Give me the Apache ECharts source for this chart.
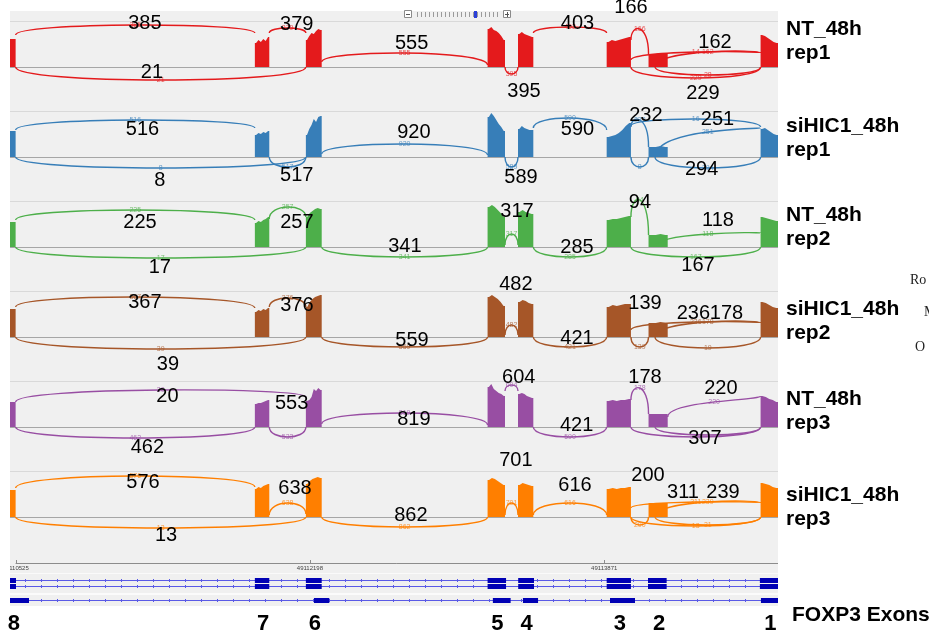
<!DOCTYPE html>
<html>
<head>
<meta charset="utf-8">
<script src="https://cdn.jsdelivr.net/npm/echarts@6/dist/echarts.min.js"></script>
<style>
  html, body { margin: 0; padding: 0; background: #fff; }
  #chart { width: 929px; height: 635px; }
</style>
</head>
<body>
<div id="chart"></div>
<script>
// ---------------- data ----------------
// FOXP3 exons, left to right on the genomic axis (exon 8 ... exon 1)
const exonLabels = ['8', '7', '6', '5', '4', '3', '2', '1'];
const exonStart = [49110493, 49111885, 49112175, 49113208, 49113381, 49113885, 49114123, 49114760];
const exonEnd   = [49110525, 49111967, 49112265, 49113307, 49113468, 49114023, 49114232, 49114859];
const rulerTicks = [49110525, 49112198, 49113871];

// annotated transcripts (exon blocks)
const transcriptA = [[49110493, 49110527], [49111885, 49111967], [49112175, 49112265], [49113208, 49113313],
                     [49113382, 49113472], [49113885, 49114023], [49114120, 49114226], [49114756, 49114859]];
const transcriptB = transcriptA;
const transcriptC = [[49110493, 49110601], [49112221, 49112308], [49113238, 49113339], [49113409, 49113495],
                     [49113904, 49114046], [49114762, 49114859]];

const sampleNames = [['NT_48h', 'rep1'], ['siHIC1_48h', 'rep1'], ['NT_48h', 'rep2'],
                     ['siHIC1_48h', 'rep2'], ['NT_48h', 'rep3'], ['siHIC1_48h', 'rep3']];

// read coverage across each exon (relative depth, samples along the exon)
const covNT_rep1 = [[28, 28, 28], [24, 27, 25, 28, 26, 30], [27, 31, 34, 33, 36, 38, 37], [38, 40, 37, 36, 34, 31, 27],
                    [33, 35, 33, 32, 31, 30], [25, 27, 26, 27, 28, 29, 30], [13, 13, 14, 13], [32, 31, 29, 27, 25, 24]];
const covSi_rep1 = [[26, 26, 26], [22, 24, 23, 25, 24, 26], [22, 28, 32, 38, 35, 40, 41], [40, 44, 41, 37, 33, 30, 26],
                    [28, 31, 29, 28, 27, 27], [20, 21, 22, 24, 27, 31, 34], [10, 10, 11, 10], [28, 29, 27, 25, 23, 22]];
const covNT_rep2 = [[25, 25, 25], [24, 26, 25, 27, 28, 30], [30, 34, 36, 38, 39, 38], [40, 42, 40, 37, 34, 30],
                    [35, 37, 35, 34, 33], [27, 28, 28, 29, 30, 31], [12, 12, 13, 12], [30, 29, 28, 27, 26]];
const covSi_rep2 = [[28, 28, 28], [25, 27, 26, 28, 27, 29], [30, 35, 38, 40, 41, 42], [40, 42, 40, 38, 35, 31],
                    [35, 37, 36, 34, 33], [30, 32, 31, 32, 33, 33], [14, 14, 15, 14], [35, 34, 32, 30, 29]];
const covNT_rep3 = [[25, 25, 25], [23, 24, 24, 25, 26, 27], [26, 27, 30, 38, 36, 39, 37], [40, 43, 38, 36, 34, 33, 31],
                    [33, 34, 33, 31, 30, 29], [26, 27, 26, 27, 27, 28], [13, 13, 13, 13], [31, 30, 28, 27, 25]];
const covSi_rep3 = [[27, 27, 27], [28, 30, 29, 31, 32, 33], [33, 36, 38, 39, 40, 39], [37, 39, 38, 36, 34, 32],
                    [32, 34, 33, 32, 31], [28, 29, 28, 29, 29, 30], [14, 14, 14, 14], [34, 33, 32, 30, 29]];

// splice junctions: [donor, acceptor, reads, side (1 above / -1 below)]
const junNT_rep1 = [[49110525, 49111885, 385, 1], [49111967, 49112175, 379, 1], [49112265, 49113208, 555, 1],
                    [49113468, 49113885, 403, 1], [49114023, 49114123, 166, 1], [49114023, 49114760, 14, 1],
                    [49114160, 49114760, 162, 1], [49110525, 49112175, 21, -1], [49113307, 49113381, 395, -1],
                    [49114023, 49114760, 229, -1], [49114160, 49114760, 28, -1]];
const junSi_rep1 = [[49110525, 49111885, 516, 1], [49110525, 49112175, 8, -1], [49111967, 49112175, 517, -1],
                    [49112265, 49113208, 920, 1], [49113307, 49113381, 589, -1], [49113468, 49113885, 590, 1],
                    [49114023, 49114123, 232, 1], [49114023, 49114123, 8, -1], [49114023, 49114760, 16, 1],
                    [49114160, 49114760, 251, 1], [49114160, 49114760, 294, -1]];
const junNT_rep2 = [[49110525, 49111885, 225, 1], [49111967, 49112175, 257, 1], [49110525, 49112175, 17, -1],
                    [49112265, 49113208, 341, -1], [49113307, 49113381, 317, 1], [49113468, 49113885, 285, -1],
                    [49114023, 49114123, 94, 1], [49114160, 49114760, 118, 1], [49114023, 49114760, 167, -1]];
const junSi_rep2 = [[49110525, 49111885, 367, 1], [49111967, 49112175, 376, 1], [49110525, 49112175, 39, -1],
                    [49112265, 49113208, 559, -1], [49113307, 49113381, 482, 1], [49113468, 49113885, 421, -1],
                    [49114023, 49114123, 139, -1], [49114023, 49114760, 236, 1], [49114160, 49114760, 178, 1],
                    [49114160, 49114760, 19, -1]];
const junNT_rep3 = [[49110525, 49112175, 20, 1], [49110525, 49111885, 462, -1], [49111967, 49112175, 533, -1],
                    [49112265, 49113208, 819, 1], [49113307, 49113381, 604, 1], [49113468, 49113885, 590, -1],
                    [49114023, 49114123, 178, 1], [49114232, 49114760, 220, 1], [49114023, 49114760, 307, -1],
                    [49114160, 49114760, null, -1]];
const junSi_rep3 = [[49110525, 49111885, 576, 1], [49111967, 49112175, 638, 1], [49110525, 49112175, 13, -1],
                    [49112265, 49113208, 862, -1], [49113307, 49113381, 701, 1], [49113468, 49113885, 616, 1],
                    [49114023, 49114123, 200, -1], [49114023, 49114760, 311, 1], [49114160, 49114760, 239, 1],
                    [49114023, 49114760, 13, -1], [49114160, 49114760, 31, -1]];

// junction read counts written large over each track
const callNT_rep1 = [385, 379, 555, 403, 166, 162, 21, 395, 229];
const callSi_rep1 = [516, 8, 517, 920, 589, 590, 232, 251, 294];
const callNT_rep2 = [225, 257, 17, 341, 317, 285, 94, 118, 167];
const callSi_rep2 = [367, 376, 39, 559, 482, 421, 139, 236, 178];
const callNT_rep3 = [20, 462, 553, 819, 604, 421, 178, 220, 307];
const callSi_rep3 = [576, 638, 13, 862, 701, 616, 200, 311, 239];

// ---------------- layout & style ----------------
const xMin = 49110493, xMax = 49114859;
const trackColors = ['#e41a1c', '#377eb8', '#4daf4a', '#a65628', '#984ea3', '#ff7f00'];
const FONT = '"Liberation Sans", Arial, sans-serif';

// arc geometry per junction: [end height at donor, end height at acceptor, apex height]
const arcShapes = [
  [[32, 34, 42], [34, 34, 39], [5, 2, 14], [34, 34, 40], [27, 13, 38], [7, 14, 15], [0, 14, 15], [0, 0, 13], [0, 0, 7], [0, 0, 11], [0, 0, 8]],
  [[27, 29, 37], [0, 0, 11], [0, 0, 10], [3, 2, 13], [0, 0, 10], [29, 27, 39], [30, 10, 37], [0, 0, 10], [31, 30, 38], [0, 29, 25], [0, 0, 11]],
  [[27, 27, 37], [28, 30, 40], [0, 0, 11], [0, 0, 10], [2, 2, 13], [0, 0, 10], [30, 12, 47], [0, 14, 13], [0, 0, 10]],
  [[30, 29, 40], [30, 30, 39], [0, 0, 12], [0, 0, 10], [2, 2, 12], [0, 0, 10], [0, 0, 10], [7, 14, 15], [0, 14, 15], [0, 0, 11]],
  [[25, 30, 37], [0, 0, 11], [0, 0, 10], [3, 2, 14], [36, 36, 42], [0, 0, 10], [27, 13, 39], [10, 31, 25], [0, 0, 10], [0, 0, 8]],
  [[29, 30, 41], [2, 3, 14], [0, 0, 11], [0, 0, 10], [2, 2, 14], [2, 2, 14], [0, 0, 8], [9, 14, 15], [0, 14, 15], [0, 0, 9], [0, 0, 8]]
];
// anchor of each large count: [genomic position, height in track units]
const calloutAnchors = [
  [[49111260, 44], [49112123, 43], [49112776, 24], [49113719, 44], [49114023, 60], [49114501, 25], [49111300, -5], [49113415, -24], [49114432, -26]],
  [[49111246, 27.5], [49111345, -23], [49112123, -18], [49112789, 25], [49113398, -20], [49113719, 28], [49114108, 42], [49114515, 37.5], [49114425, -12]],
  [[49111232, 25], [49112124, 25], [49111345, -20], [49112738, 1], [49113375, 36], [49113716, 0], [49114074, 45], [49114518, 27], [49114404, -18]],
  [[49111260, 35], [49112124, 32], [49111391, -27], [49112778, -3], [49113369, 53], [49113716, -1], [49114103, 34], [49114378, 24], [49114566, 24]],
  [[49111388, 31], [49111274, -20], [49112094, 24], [49112789, 8], [49113385, 50], [49113714, 2], [49114103, 50], [49114534, 39], [49114444, -11]],
  [[49111249, 35], [49112113, 29], [49111380, -18], [49112772, 2], [49113369, 57], [49113705, 32], [49114120, 42], [49114319, 25], [49114546, 25]]
];
const sampleLabelY = [30.5, 127.5, 217, 311, 401, 496.5];

const tracks = [
  { cov: covNT_rep1, jun: junNT_rep1, call: callNT_rep1 },
  { cov: covSi_rep1, jun: junSi_rep1, call: callSi_rep1 },
  { cov: covNT_rep2, jun: junNT_rep2, call: callNT_rep2 },
  { cov: covSi_rep2, jun: junSi_rep2, call: callSi_rep2 },
  { cov: covNT_rep3, jun: junNT_rep3, call: callNT_rep3 },
  { cov: covSi_rep3, jun: junSi_rep3, call: callSi_rep3 }
];

// ---------------- chart ----------------
const grids = [], xAxes = [], yAxes = [], series = [];
const GENE = tracks.length;

tracks.forEach((t, ti) => {
  grids.push({ left: 10, top: 11 + 90 * ti, width: 768, height: 90, show: true,
               backgroundColor: '#f0f0f0', borderWidth: 0 });
  xAxes.push({ gridIndex: ti, type: 'value', min: xMin, max: xMax, show: false });
  yAxes.push({ gridIndex: ti, type: 'value', min: -34, max: 56, show: false });
});
grids.push({ left: 10, top: 551, width: 768, height: 55, show: true, backgroundColor: '#f0f0f0', borderWidth: 0 });
xAxes.push({ gridIndex: GENE, type: 'value', min: xMin, max: xMax, show: false });
yAxes.push({ gridIndex: GENE, type: 'value', min: 0, max: 55, inverse: true, show: false });

tracks.forEach((t, ti) => {
  const color = trackColors[ti];
  const base = { type: 'custom', xAxisIndex: ti, yAxisIndex: ti, silent: true, animation: false };

  // track guide lines: data range top and zero line
  series.push(Object.assign({}, base, {
    data: [[xMin, 0]],
    renderItem: (params, api) => {
      const l = api.coord([xMin, 0]), r = api.coord([xMax, 0]), top = api.coord([xMin, 46]);
      return { type: 'group', children: [
        { type: 'line', shape: { x1: l[0], y1: Math.round(top[1]) + 0.5, x2: r[0], y2: Math.round(top[1]) + 0.5 },
          style: { stroke: '#d9d9d9', lineWidth: 1 } },
        { type: 'line', shape: { x1: l[0], y1: Math.round(l[1]) + 0.5, x2: r[0], y2: Math.round(l[1]) + 0.5 },
          style: { stroke: '#a6a6a6', lineWidth: 1 } }
      ] };
    }
  }));

  // exon coverage
  series.push(Object.assign({}, base, {
    data: t.cov.map((_, i) => [exonStart[i], 0]),
    renderItem: (params, api) => {
      const i = params.dataIndex, vals = t.cov[i];
      const s = exonStart[i], e = exonEnd[i], n = vals.length, step = (e - s) / n;
      const pts = [api.coord([s, 0]), api.coord([s, vals[0]])];
      vals.forEach((v, k) => pts.push(api.coord([s + step * (k + 0.5), v])));
      pts.push(api.coord([e, vals[n - 1]]), api.coord([e, 0]));
      return { type: 'polygon', shape: { points: pts }, style: { fill: color } };
    }
  }));

  // junction arcs with their read counts
  series.push(Object.assign({}, base, {
    data: t.jun.map(j => [j[0], 0]),
    renderItem: (params, api) => {
      const [a, b, count, side] = t.jun[params.dataIndex];
      const sh = arcShapes[ti][params.dataIndex];
      const h1 = side * sh[0], h2 = side * sh[1], peak = side * sh[2];
      const c = (peak - 0.125 * (h1 + h2)) / 0.75;
      const p1 = api.coord([a, h1]), p2 = api.coord([b, h2]);
      const q1 = api.coord([a, c]), q2 = api.coord([b, c]);
      const mid = api.coord([(a + b) / 2, peak]);
      const children = [{
        type: 'bezierCurve',
        shape: { x1: p1[0], y1: p1[1], x2: p2[0], y2: p2[1], cpx1: q1[0], cpy1: q1[1], cpx2: q2[0], cpy2: q2[1] },
        style: { stroke: color, fill: null, lineWidth: 1.4 }
      }];
      if (count != null) {
        children.push({ type: 'text', x: mid[0], y: mid[1],
          style: { text: String(count), fill: color, opacity: 0.75, font: '7px ' + FONT,
                   align: 'center', verticalAlign: 'middle' } });
      }
      return { type: 'group', children };
    }
  }));

  // large count annotations
  series.push(Object.assign({}, base, {
    data: t.call.map((_, i) => calloutAnchors[ti][i]),
    renderItem: (params, api) => {
      const i = params.dataIndex, p = api.coord(calloutAnchors[ti][i]);
      return { type: 'text', x: p[0], y: p[1],
        style: { text: String(t.call[i]), fill: '#000', font: '20px ' + FONT, align: 'center', verticalAlign: 'middle' } };
    }
  }));
});

// gene panel: ruler and transcript models
const geneBase = { type: 'custom', xAxisIndex: GENE, yAxisIndex: GENE, silent: true, animation: false };

series.push(Object.assign({}, geneBase, {
  data: [[xMin, 0]],
  renderItem: (params, api) => {
    const l = api.coord([xMin, 0]), r = api.coord([xMax, 0]);
    const kids = [
      { type: 'rect', shape: { x: l[0], y: api.coord([xMin, 22])[1], width: r[0] - l[0], height: 1 }, style: { fill: '#fafafa' } },
      { type: 'rect', shape: { x: l[0], y: api.coord([xMin, 42])[1], width: r[0] - l[0], height: 2 }, style: { fill: '#fbfbfb' } }
    ];
    const r0 = api.coord([rulerTicks[0], 12]);
    kids.push({ type: 'line', shape: { x1: r0[0], y1: Math.round(r0[1]) + 0.5, x2: r[0], y2: Math.round(r0[1]) + 0.5 },
                style: { stroke: '#8c8c8c', lineWidth: 1 } });
    rulerTicks.forEach(tk => {
      const p = api.coord([tk, 12]);
      kids.push({ type: 'line', shape: { x1: Math.round(p[0]) + 0.5, y1: p[1] - 3, x2: Math.round(p[0]) + 0.5, y2: p[1] },
                  style: { stroke: '#8c8c8c', lineWidth: 1 } });
    });
    return { type: 'group', children: kids };
  }
}));

// ruler labels, clipped to the panel
series.push(Object.assign({}, geneBase, {
  clip: true,
  data: rulerTicks.map(tk => [tk, 17]),
  renderItem: (params, api) => {
    const p = api.coord([rulerTicks[params.dataIndex], 17.5]);
    return { type: 'text', x: p[0], y: p[1],
      style: { text: String(rulerTicks[params.dataIndex]), fill: '#444', font: '6px ' + FONT, align: 'center', verticalAlign: 'middle' } };
  }
}));

const transcriptRows = [[transcriptA, 28.5], [transcriptB, 35], [transcriptC, 48.5]];
series.push(Object.assign({}, geneBase, {
  data: transcriptRows.map((_, i) => [xMin, i]),
  renderItem: (params, api) => {
    const [blocks, row] = transcriptRows[params.dataIndex];
    const l = api.coord([xMin, row]), r = api.coord([xMax, row]);
    const y = Math.round(l[1]) + 0.5;
    const kids = [{ type: 'line', shape: { x1: l[0], y1: y, x2: r[0], y2: y }, style: { stroke: '#5a5ae6', lineWidth: 1 } }];
    for (let x = l[0] + 15; x < r[0] - 4; x += 16) {
      kids.push({ type: 'line', shape: { x1: Math.round(x) + 0.5, y1: y - 1.5, x2: Math.round(x) + 0.5, y2: y + 1.5 },
                  style: { stroke: '#5a5ae6', lineWidth: 1 } });
    }
    blocks.forEach(bk => {
      const a = api.coord([bk[0], row]), b = api.coord([bk[1], row]);
      kids.push({ type: 'rect', shape: { x: a[0], y: y - 2.5, width: b[0] - a[0], height: 5 }, style: { fill: '#0000b4' } });
    });
    return { type: 'group', children: kids };
  }
}));

// exon numbers under the gene model
series.push(Object.assign({}, geneBase, {
  data: exonLabels.map((_, i) => [(exonStart[i] + exonEnd[i]) / 2, 73]),
  renderItem: (params, api) => {
    const i = params.dataIndex;
    const p = api.coord([(exonStart[i] + exonEnd[i]) / 2, 73]);
    return { type: 'text', x: p[0] + 1, y: p[1],
      style: { text: exonLabels[i], fill: '#000', font: 'bold 22px ' + FONT, align: 'center', verticalAlign: 'middle' } };
  }
}));

// sample names, panel title and zoom widget
const graphics = [];
sampleNames.forEach((nm, i) => {
  graphics.push({ type: 'text', left: 786, top: sampleLabelY[i] - 12,
    style: { text: nm[0], fill: '#000', font: 'bold 21px ' + FONT } });
  graphics.push({ type: 'text', left: 786, top: sampleLabelY[i] + 12,
    style: { text: nm[1], fill: '#000', font: 'bold 21px ' + FONT } });
});
graphics.push({ type: 'text', left: 792, top: 605, style: { text: 'FOXP3 Exons', fill: '#000', font: 'bold 21px ' + FONT } });
graphics.push({ type: 'text', left: 910, top: 273, style: { text: 'Ro', fill: '#222', font: '14px "Liberation Serif", serif' } });
graphics.push({ type: 'text', left: 924, top: 305, style: { text: 'M', fill: '#222', font: '14px "Liberation Serif", serif' } });
graphics.push({ type: 'text', left: 915, top: 340, style: { text: 'O', fill: '#222', font: '14px "Liberation Serif", serif' } });

graphics.push({ type: 'rect', shape: { x: 404.5, y: 10.5, width: 7, height: 7 }, style: { fill: '#fff', stroke: '#8a8a8a', lineWidth: 1 } });
graphics.push({ type: 'line', shape: { x1: 406, y1: 14.5, x2: 410, y2: 14.5 }, style: { stroke: '#555', lineWidth: 1 } });
for (let x = 417; x <= 499; x += 4) {
  graphics.push({ type: 'line', shape: { x1: x + 0.5, y1: 12, x2: x + 0.5, y2: 17 }, style: { stroke: '#9a9a9a', lineWidth: 1 } });
}
graphics.push({ type: 'rect', shape: { x: 474, y: 11, width: 3, height: 7 }, style: { fill: '#2a3fd8' } });
graphics.push({ type: 'rect', shape: { x: 503.5, y: 10.5, width: 7, height: 7 }, style: { fill: '#fff', stroke: '#8a8a8a', lineWidth: 1 } });
graphics.push({ type: 'line', shape: { x1: 505, y1: 14.5, x2: 509, y2: 14.5 }, style: { stroke: '#555', lineWidth: 1 } });
graphics.push({ type: 'line', shape: { x1: 507.5, y1: 12, x2: 507.5, y2: 17 }, style: { stroke: '#555', lineWidth: 1 } });

const chart = echarts.init(document.getElementById('chart'), null, { renderer: 'canvas' });
chart.setOption({
  animation: false,
  backgroundColor: '#ffffff',
  grid: grids,
  xAxis: xAxes,
  yAxis: yAxes,
  series: series,
  graphic: graphics
});
</script>
</body>
</html>
